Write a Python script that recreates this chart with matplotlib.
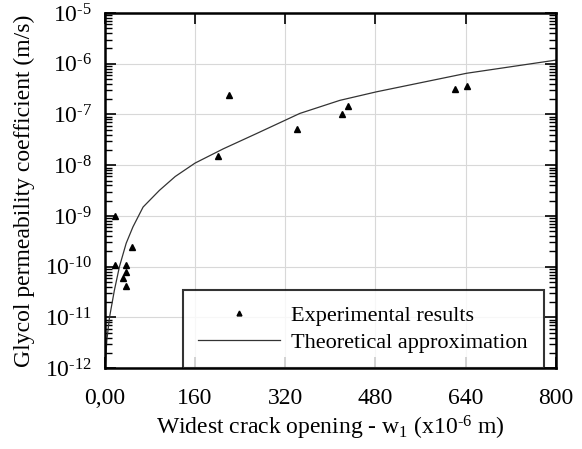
import matplotlib.pyplot as plt
from matplotlib.ticker import LogLocator, NullFormatter

plt.rcParams['font.family'] = ['Liberation Serif', 'DejaVu Serif']
plt.rcParams['mathtext.fontset'] = 'custom'
plt.rcParams['mathtext.rm'] = 'Liberation Serif'
plt.rcParams['mathtext.it'] = 'Liberation Serif:italic'

# experimental results (crack opening in 1e-6 m, permeability in m/s)
exp_w = [18, 18, 33, 38, 38, 38, 49, 200, 220, 341, 421, 431, 622, 642]
exp_k = [1.0e-9, 1.1e-10, 6.0e-11, 4.1e-11, 7.9e-11, 1.1e-10, 2.45e-10,
         1.55e-8, 2.4e-7, 5.2e-8, 1.0e-7, 1.5e-7, 3.2e-7, 3.7e-7]

# theoretical approximation
theo_w = [0.7, 3.6, 8.4, 17, 26, 38, 50, 68, 97, 125, 160, 210, 269, 346, 417, 482, 642, 800]
theo_k = [1e-12, 3.5e-12, 1e-11, 3.4e-11, 1e-10, 2.9e-10, 6.1e-10, 1.5e-9, 3.2e-9, 6.0e-9,
          1.1e-8, 2.1e-8, 4.2e-8, 1.05e-7, 1.9e-7, 2.8e-7, 6.5e-7, 1.18e-6]

xticks = [0, 160, 320, 480, 640, 800]
xticklabels = ["0,00", "160", "320", "480", "640", "800"]
yticks = [1e-12, 1e-11, 1e-10, 1e-9, 1e-8, 1e-7, 1e-6, 1e-5]
yticklabels = [r"10$^{\text{-}%d}$" % e for e in [12, 11, 10, 9, 8, 7, 6, 5]]

fig = plt.figure(figsize=(5.82, 4.49), dpi=100)
ax = fig.add_axes([0.180, 0.180, 0.775, 0.791])

ax.plot(theo_w, theo_k, color="#333333", lw=0.9, label="Theoretical approximation", zorder=2)
ax.plot(exp_w, exp_k, ls="none", marker="^", ms=5, color="black", label="Experimental results", zorder=3)

ax.set_yscale("log")
ax.set_xlim(0, 800)
ax.set_ylim(1e-12, 1e-5)
ax.set_xticks(xticks)
ax.set_xticklabels(xticklabels)
ax.set_yticks(yticks)
ax.set_yticklabels(yticklabels)
ax.yaxis.set_minor_locator(LogLocator(base=10, subs=range(2, 10), numticks=20))
ax.yaxis.set_minor_formatter(NullFormatter())

ax.grid(True, which="major", color="#d8d8d8", lw=0.8)
ax.set_axisbelow(True)
for s in ax.spines.values():
    s.set_linewidth(1.8)

ax.tick_params(axis="both", which="major", direction="in", length=8, width=1.2,
               top=True, right=True, labelsize=17)
ax.tick_params(axis="x", which="major", pad=14)
ax.tick_params(axis="y", which="major", pad=9)
ax.tick_params(axis="y", which="minor", direction="in", length=5, width=1.0,
               left=True, right=True)

ax.set_xlabel(r"Widest crack opening - w$_1$ (x10$^{\text{-}6}$ m)", fontsize=17, labelpad=4)
ax.set_ylabel("Glycol permeability coefficient (m/s)", fontsize=17, labelpad=7)

h, l = ax.get_legend_handles_labels()
leg = ax.legend(h[::-1], l[::-1], loc="lower right", bbox_to_anchor=(0.973, 0.0),
                borderaxespad=0, fontsize=16, frameon=True, fancybox=False,
                edgecolor="black", borderpad=0.7, handlelength=3.7,
                handletextpad=0.5, labelspacing=0.27, markerscale=0.7)
leg.get_frame().set_linewidth(1.5)

fig.savefig("out.png", dpi=100)
